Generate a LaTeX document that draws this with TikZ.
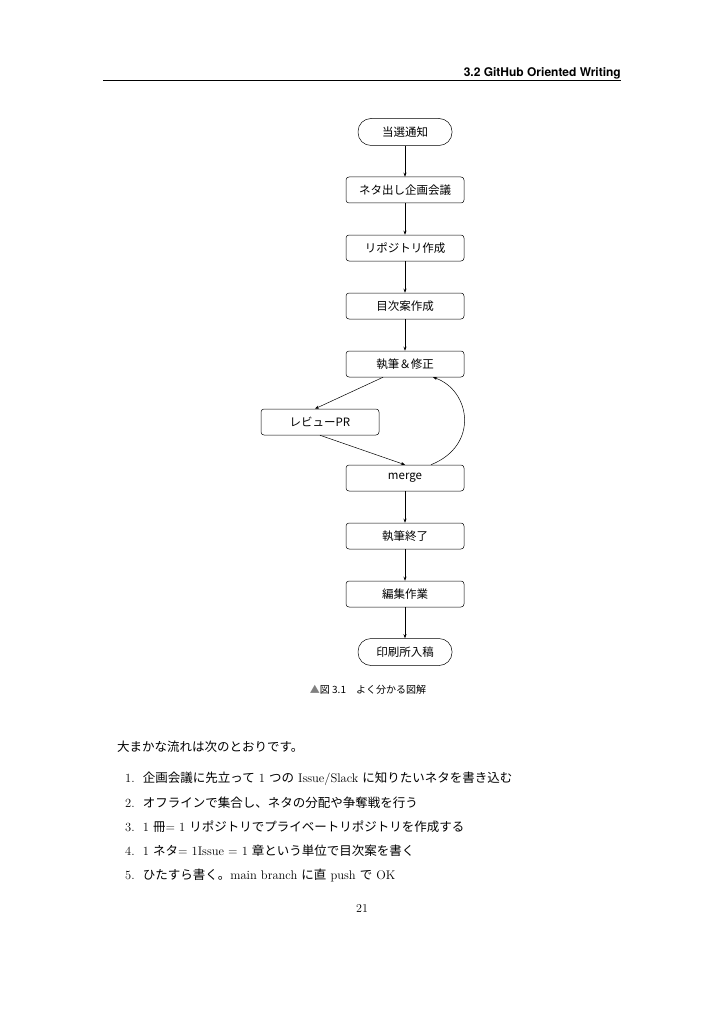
\documentclass[tikz,border=0pt]{standalone}
\usepackage{fontspec}
\newfontfamily\cjk{Noto Sans CJK JP}
\newfontfamily\heros{TeX Gyre Heros}
\usetikzlibrary{arrows.meta}
\begin{document}
\begin{tikzpicture}[x=1pt,y=-1pt,
  box/.style={draw,rounded corners=3pt,minimum width=118pt,minimum height=26pt,font=\cjk\fontsize{11.5}{13}\selectfont,line width=0.5pt},
  term/.style={draw,rounded corners=13pt,minimum width=94pt,minimum height=27pt,font=\cjk\fontsize{11.5}{13}\selectfont,line width=0.5pt},
  arr/.style={-{Stealth[length=4pt,width=3pt]},line width=0.5pt},
  body/.style={anchor=west,font=\fontsize{12.5}{15}\selectfont,inner sep=0pt}]
\useasboundingbox (0,0) rectangle (725,1024);
\fill[white] (0,0) rectangle (725,1024);
\node[anchor=base east,font=\heros\bfseries\fontsize{12}{14}\selectfont,inner sep=0pt] (hdr) at (621,77) {3.2 GitHub Oriented Writing};
\draw[line width=0.5pt] (103,80) -- (621,80);
\node[term] (a) at (405,132) {当選通知};
\node[box] (b) at (405,190) {ネタ出し企画会議};
\node[box] (c) at (405,248) {リポジトリ作成};
\node[box] (d) at (405,306) {目次案作成};
\node[box] (e) at (405,364) {執筆＆修正};
\node[box] (f) at (320,422) {レビューPR};
\node[box] (g) at (405,478) {merge};
\node[box] (h) at (405,536) {執筆終了};
\node[box] (i) at (405,594) {編集作業};
\node[term] (j) at (405,652) {印刷所入稿};
\coordinate (e1) at ([xshift=-22pt]e.south);
\coordinate (e2) at ([xshift=28pt]e.south);
\coordinate (g1) at ([xshift=26pt]g.north);
\draw[arr] (a) -- (b);
\draw[arr] (b) -- (c);
\draw[arr] (c) -- (d);
\draw[arr] (d) -- (e);
\draw[arr] (e1) -- ([xshift=-5pt]f.north);
\draw[arr] (f.south) -- (g.north);
\draw[arr] (g1) .. controls (480,445) and (470,390) .. (e2);
\draw[arr] (g) -- (h);
\draw[arr] (h) -- (i);
\draw[arr] (i) -- (j);
\node[font=\cjk\fontsize{10}{12}\selectfont,inner sep=0pt] (cap) at (368,690) {\textcolor{gray}{▲}図 3.1\quad よく分かる図解};
\node[body] (t0) at (117,747) {\cjk 大まかな流れは次のとおりです。};
\node[body] (t1) at (125,779) {1.\ \ {\cjk 企画会議に先立って} 1 {\cjk つの} Issue/Slack {\cjk に知りたいネタを書き込む}};
\node[body] (t2) at (125,803) {2.\ \ {\cjk オフラインで集合し、ネタの分配や争奪戦を行う}};
\node[body] (t3) at (125,827) {3.\ \ 1 {\cjk 冊}= 1 {\cjk リポジトリでプライベートリポジトリを作成する}};
\node[body] (t4) at (125,851) {4.\ \ 1 {\cjk ネタ}= 1Issue = 1 {\cjk 章という単位で目次案を書く}};
\node[body] (t5) at (125,875) {5.\ \ {\cjk ひたすら書く。}main branch {\cjk に直} push {\cjk で} OK};
\node[font=\fontsize{12}{14}\selectfont] (pg) at (362,908) {21};
\end{tikzpicture}
\end{document}
